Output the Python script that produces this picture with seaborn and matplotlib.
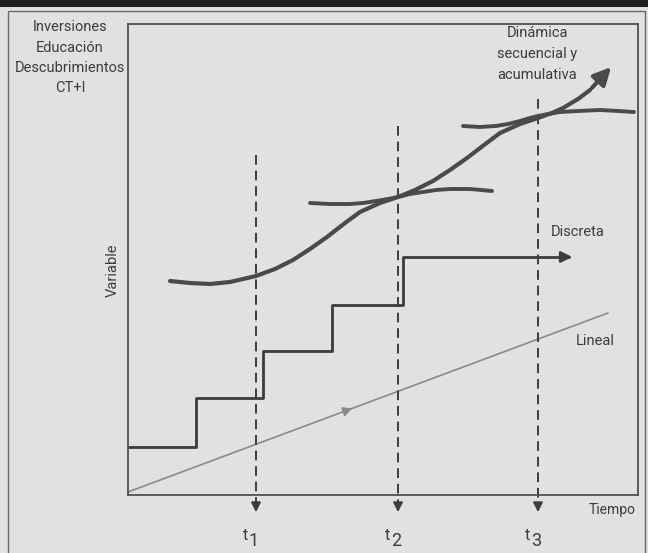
import matplotlib
matplotlib.use("Agg")
import matplotlib.pyplot as plt
import seaborn as sns
from matplotlib.patches import Rectangle

W, H = 648, 553

# values in the diagram's own units: tiempo from the left axis, variable up from the time axis
s_tiempo = [42, 62, 82, 102, 128, 147, 165, 182, 199, 217, 232, 252, 270, 287,
            305, 322, 339, 356, 372, 392, 410, 424, 435, 450, 462, 485]
s_variable = [214, 212, 211, 213, 219, 226, 235, 246, 258, 272, 283, 292, 298, 305,
              314, 325, 337, 350, 362, 371, 377, 382, 387, 396, 405, 430]

t2_tiempo = [182, 202, 222, 235, 248, 260, 270, 282, 295, 308, 322, 342, 364]
t2_variable = [292, 291, 291, 292, 294, 296, 298, 301, 303, 305, 306, 306, 304]

t3_tiempo = [335, 352, 368, 380, 392, 402, 410, 420, 432, 450, 472, 490, 506]
t3_variable = [369, 368, 369, 371, 374, 377, 379, 381, 383, 384, 385, 384, 383]

step_tiempo = [0, 68, 135, 204, 275, 447]
step_variable = [48, 97, 144, 190, 238, 238]

lineal_tiempo = [0, 480]
lineal_variable = [3, 182]

t_marks = [128, 270, 410]
t_tops = [340, 369, 396]
t_names = ["1", "2", "3"]

left_labels = ["Inversiones", "Educación", "Descubrimientos", "CT+I"]
dyn_labels = ["Dinámica", "secuencial y", "acumulativa"]

BG = "#e1e1df"
INK = "#3c3c3c"
CURVE = "#4a4a4a"

sns.set_theme(style="white")
plt.rcParams["font.family"] = ["Roboto", "DejaVu Sans"]

fig = plt.figure(figsize=(W / 100, H / 100), dpi=100)
fig.patch.set_facecolor(BG)

# top black band and outer frame of the scanned box
fig.add_artist(Rectangle((0, 1 - 7 / H), 1, 7 / H, transform=fig.transFigure,
                         color="#1e1e1e", lw=0))
fig.add_artist(Rectangle((8 / W, -0.02), 637 / W, 1.02 - 11 / H, transform=fig.transFigure,
                         fill=False, ec="#6a6a6a", lw=1.0))

ax = fig.add_axes([128 / W, 1 - 495 / H, 510 / W, 471 / H])
ax.set_facecolor(BG)
ax.set_xlim(0, 510)
ax.set_ylim(0, 471)
ax.set_xticks([])
ax.set_yticks([])
for sp in ax.spines.values():
    sp.set_color("#505050")
    sp.set_linewidth(1.3)

round_kw = dict(solid_capstyle="round", solid_joinstyle="round")

# lineal growth
sns.lineplot(x=lineal_tiempo, y=lineal_variable, ax=ax, color="#8a8a8a", linewidth=1.2)
mid = 227
ax.annotate("", xy=(mid, 3 + mid * 179 / 480), xytext=(mid - 14, 3 + (mid - 14) * 179 / 480),
            arrowprops=dict(arrowstyle="-|>", color="#8a8a8a", lw=1.2, mutation_scale=14))

# discrete steps
sns.lineplot(x=step_tiempo[:-1] + [step_tiempo[-1] - 6], y=step_variable, ax=ax,
             color=INK, linewidth=2.0, drawstyle="steps-post", sort=False)
ax.annotate("", xy=(step_tiempo[-1], step_variable[-1]),
            xytext=(step_tiempo[-1] - 14, step_variable[-1]),
            arrowprops=dict(arrowstyle="-|>", color=INK, lw=2.0, mutation_scale=16))

# dashed time marks
for t, top, nm in zip(t_marks, t_tops, t_names):
    ax.plot([t, t], [top, -12], color=INK, lw=1.4, ls=(0, (5, 3)), clip_on=False)
    ax.annotate("", xy=(t, -20), xytext=(t, -8),
                arrowprops=dict(arrowstyle="-|>", color=INK, lw=1.4, mutation_scale=14),
                annotation_clip=False)
    ax.text(t - 8, -41, "t", fontsize=11.5, color=INK, ha="right", va="center", clip_on=False)
    ax.text(t - 7, -46, nm, fontsize=13, color=INK, ha="left", va="center", clip_on=False)

# tangent branches
sns.lineplot(x=t2_tiempo, y=t2_variable, ax=ax, color=CURVE, linewidth=2.8, sort=False, **round_kw)
sns.lineplot(x=t3_tiempo, y=t3_variable, ax=ax, color=CURVE, linewidth=2.8, sort=False, **round_kw)

# sequential and cumulative dynamics
sns.lineplot(x=s_tiempo[:-1], y=s_variable[:-1], ax=ax, color=CURVE, linewidth=3.0,
             sort=False, **round_kw)
ax.annotate("", xy=(s_tiempo[-1], s_variable[-1]), xytext=(s_tiempo[-2], s_variable[-2]),
            arrowprops=dict(arrowstyle="-|>", color=CURVE, lw=3.0, mutation_scale=26))

ax.text(450, 263, "Discreta", fontsize=10.5, color=INK, ha="center", va="center")
ax.text(467, 154, "Lineal", fontsize=10.5, color=INK, ha="center", va="center")

# labels around the box
def px_text(x, y, s, **kw):
    fig.text(x / W, 1 - y / H, s, ha="center", va="center", color=INK, **kw)

for i, s in enumerate(left_labels):
    px_text(70, 27 + i * 20.5, s, fontsize=10.5)
for i, s in enumerate(dyn_labels):
    px_text(537, 33 + i * 21, s, fontsize=10.5)
px_text(113, 270, "Variable", fontsize=10.5, rotation=90)
px_text(612, 510, "Tiempo", fontsize=10)

fig.savefig("out.png", dpi=100, facecolor=BG)
